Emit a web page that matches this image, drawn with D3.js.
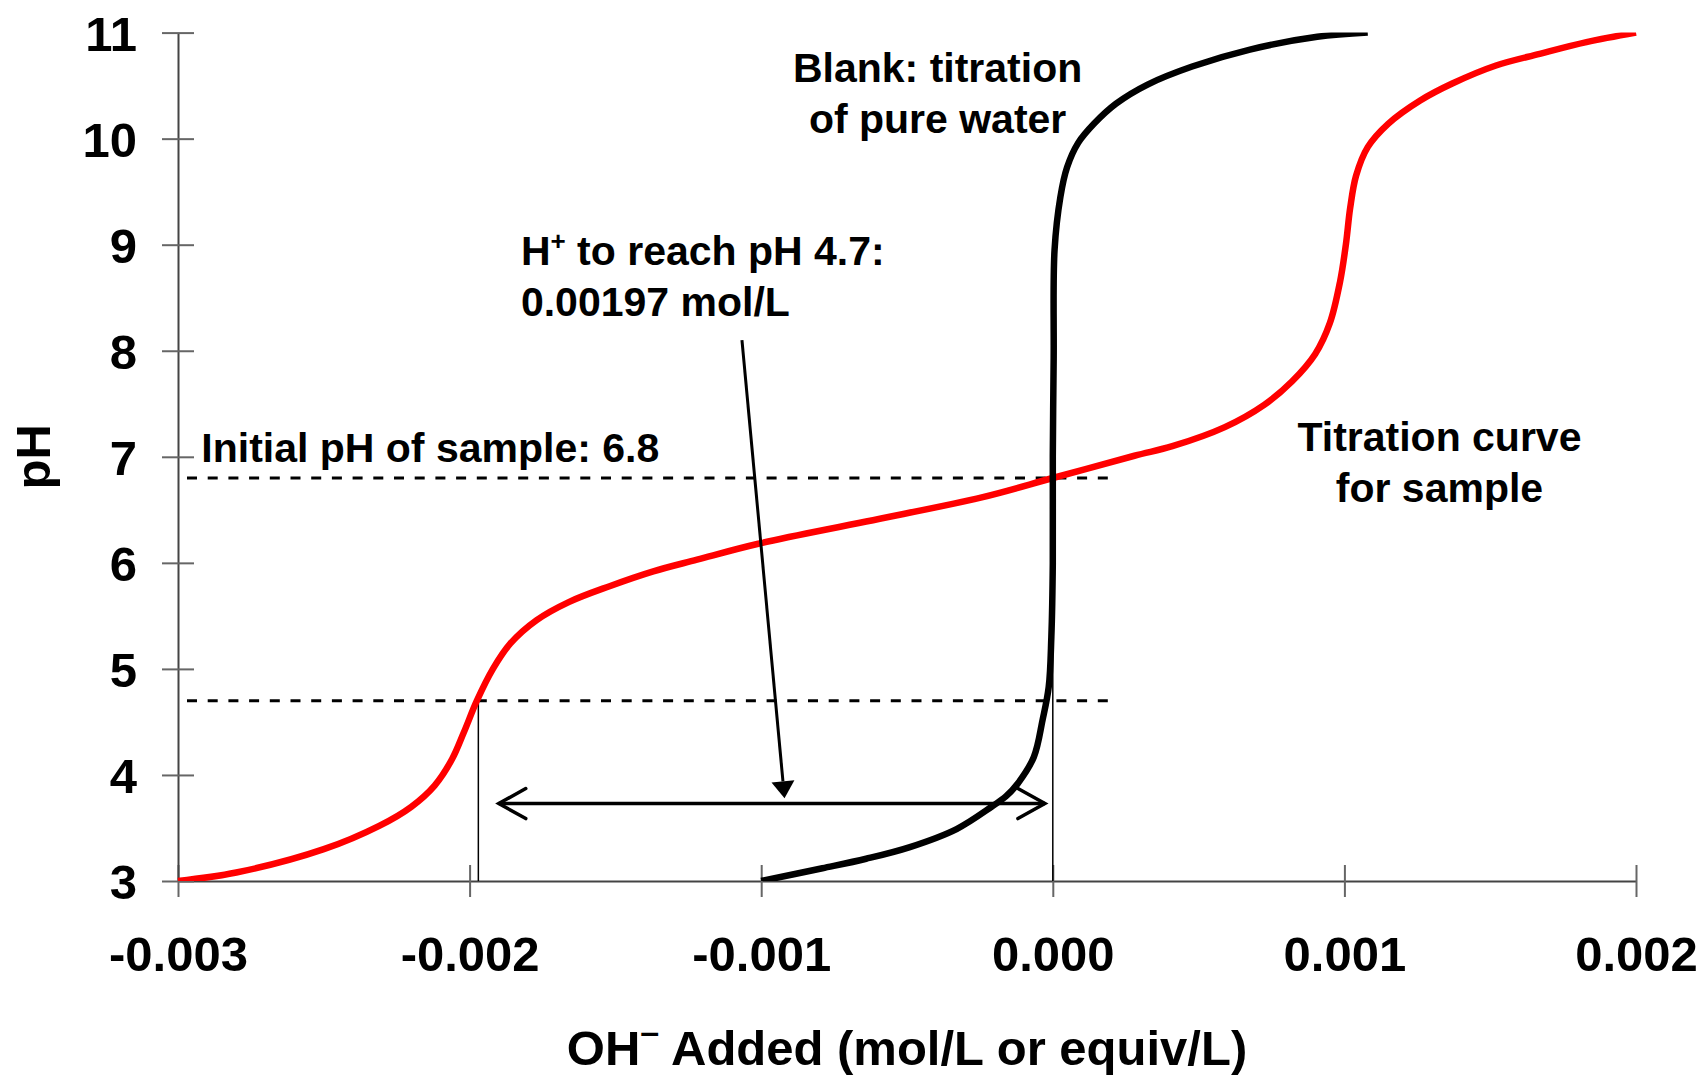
<!DOCTYPE html>
<html>
<head>
<meta charset="utf-8">
<script src="https://cdn.jsdelivr.net/npm/d3@7/dist/d3.min.js"></script>
<style>
    html, body { margin: 0; padding: 0; background: #fff; }
    svg { display: block; }
    text { font-family: Arial, "Liberation Sans", sans-serif; font-weight: bold; fill: #000; }
</style>
</head>
<body>
<div id="chart"></div>
<script>
    // 刻度
    var xTicks = [-0.003, -0.002, -0.001, 0, 0.001, 0.002];
    var xTickLabels = ["-0.003", "-0.002", "-0.001", "0.000", "0.001", "0.002"];
    var yTicks = [3, 4, 5, 6, 7, 8, 9, 10, 11];

    // 样品滴定曲线 [OH- added, pH]
    var sampleCurve = [
        [-0.003, 3.0], [-0.0028, 3.08], [-0.0025, 3.30], [-0.00231, 3.52], [-0.0022, 3.70],
        [-0.00212, 3.90], [-0.00206, 4.15], [-0.00202, 4.4], [-0.001975, 4.7], [-0.00192, 5.0],
        [-0.00186, 5.24], [-0.00177, 5.46], [-0.00166, 5.63], [-0.00152, 5.78], [-0.00137, 5.92],
        [-0.00122, 6.03], [-0.00101, 6.18], [-0.00064, 6.39], [-0.00024, 6.62], [0, 6.8],
        [0.00028, 7.01], [0.00041, 7.10], [0.00059, 7.28], [0.000725, 7.49], [0.00082, 7.71],
        [0.0009, 7.97], [0.00095, 8.26], [0.000985, 8.65], [0.001005, 9.0], [0.00102, 9.35],
        [0.00104, 9.65], [0.00108, 9.92], [0.00115, 10.14], [0.00126, 10.36], [0.00137, 10.52],
        [0.00152, 10.69], [0.00167, 10.80], [0.00183, 10.91], [0.002, 11.0]
    ];

    // 空白（纯水）滴定曲线
    var blankCurve = [
        [-0.001, 3.0], [-0.00079, 3.12], [-0.00064, 3.21], [-0.00049, 3.32], [-0.00033, 3.49],
        [-0.00021, 3.70], [-0.00016, 3.80], [-0.00012, 3.92], [-0.000065, 4.17], [-0.000035, 4.52],
        [-0.000014, 4.83], [-0.000005, 5.3], [0, 6.0], [0, 7.0], [0.000003, 7.93],
        [0.000006, 8.95], [0.000026, 9.45], [0.000049, 9.73], [0.000087, 9.96], [0.000141, 10.14],
        [0.000217, 10.33], [0.000325, 10.51], [0.000478, 10.68], [0.000676, 10.84], [0.000907, 10.96],
        [0.00108, 11.0]
    ];

    // 参考线
    var dashedLevels = [6.8, 4.7];
    var dashedEnd = 0.0002;
    var dropLines = [[-0.00197, 4.7], [0, 6.8]];
    var rangeArrow = [[-0.0019, 3.73], [-0.000027, 3.73]];
    var pointerArrow = [[-0.001066, 8.10], [-0.00092, 3.78]];

    var W = 1703, H = 1076;
    var x = d3.scaleLinear().domain([-0.003, 0.002]).range([178, 1636]);
    var y = d3.scaleLinear().domain([3, 11]).range([881, 32.6]);

    var svg = d3.select("#chart").append("svg").attr("width", W).attr("height", H);

    svg.append("defs").append("clipPath").attr("id", "plot")
        .append("rect").attr("x", x(-0.003) - 4).attr("y", y(11))
        .attr("width", x(0.002) - x(-0.003) + 8).attr("height", y(3) - y(11));

    // 坐标轴
    var xAxis = svg.append("g").attr("transform", "translate(0," + y(3) + ")")
        .call(d3.axisBottom(x).tickValues(xTicks).tickSizeInner(16).tickSizeOuter(0).tickPadding(39)
            .tickFormat(function (d, i) { return xTickLabels[i]; }));
    xAxis.selectAll(".tick line").attr("y1", -16);

    var yAxis = svg.append("g").attr("transform", "translate(" + x(-0.003) + ",0)")
        .call(d3.axisLeft(y).tickValues(yTicks).tickSizeInner(16).tickSizeOuter(0).tickPadding(25));
    yAxis.selectAll(".tick line").attr("x1", 16);

    svg.selectAll(".domain").attr("stroke", "#444").attr("stroke-width", 2);
    svg.selectAll(".tick line").attr("stroke", "#666").attr("stroke-width", 2);
    svg.selectAll(".tick text").attr("font-size", 49).attr("font-family", "Arial, 'Liberation Sans', sans-serif")
        .attr("font-weight", "bold").attr("fill", "#000");
    yAxis.selectAll(".tick text").attr("dy", "0.36em");

    // 虚线
    svg.selectAll(".dash").data(dashedLevels).enter().append("line")
        .attr("x1", x(-0.003)).attr("x2", x(dashedEnd))
        .attr("y1", function (d) { return y(d); }).attr("y2", function (d) { return y(d); })
        .attr("stroke", "#000").attr("stroke-width", 3)
        .attr("stroke-dasharray", "10,10.7").attr("stroke-dashoffset", 11.7);

    svg.selectAll(".drop").data(dropLines).enter().append("line")
        .attr("x1", function (d) { return x(d[0]); }).attr("x2", function (d) { return x(d[0]); })
        .attr("y1", y(3)).attr("y2", function (d) { return y(d[1]); })
        .attr("stroke", "#000").attr("stroke-width", 1.5);

    // 曲线
    var line = d3.line()
        .x(function (d) { return x(d[0]); })
        .y(function (d) { return y(d[1]); })
        .curve(d3.curveCatmullRom.alpha(0.5));

    var curves = svg.append("g").attr("clip-path", "url(#plot)");
    curves.append("path").attr("d", line(sampleCurve)).attr("fill", "none")
        .attr("stroke", "#ff0000").attr("stroke-width", 6.5).attr("stroke-linejoin", "round");
    curves.append("path").attr("d", line(blankCurve)).attr("fill", "none")
        .attr("stroke", "#000").attr("stroke-width", 6.5).attr("stroke-linejoin", "round");

    // 双向箭头
    var ax0 = x(rangeArrow[0][0]), ax1 = x(rangeArrow[1][0]), ay = y(rangeArrow[0][1]);
    svg.append("line").attr("x1", ax0).attr("x2", ax1).attr("y1", ay).attr("y2", ay)
        .attr("stroke", "#000").attr("stroke-width", 3.5);
    svg.append("path")
        .attr("d", "M" + (ax0 + 27) + "," + (ay - 15) + "L" + ax0 + "," + ay + "L" + (ax0 + 27) + "," + (ay + 15) +
            "M" + (ax1 - 27) + "," + (ay - 15) + "L" + ax1 + "," + ay + "L" + (ax1 - 27) + "," + (ay + 15))
        .attr("fill", "none").attr("stroke", "#000").attr("stroke-width", 3.5).attr("stroke-linecap", "round");

    // 指示箭头
    var px0 = x(pointerArrow[0][0]), py0 = y(pointerArrow[0][1]);
    var px1 = x(pointerArrow[1][0]), py1 = y(pointerArrow[1][1]);
    var ang = Math.atan2(py1 - py0, px1 - px0);
    var hl = 17, hw = 11.5;
    var bx = px1 - hl * Math.cos(ang), by = py1 - hl * Math.sin(ang);
    svg.append("line").attr("x1", px0).attr("y1", py0).attr("x2", bx).attr("y2", by)
        .attr("stroke", "#000").attr("stroke-width", 3);
    svg.append("path")
        .attr("d", "M" + px1 + "," + py1 +
            "L" + (bx + hw * Math.sin(ang)) + "," + (by - hw * Math.cos(ang)) +
            "L" + (bx - hw * Math.sin(ang)) + "," + (by + hw * Math.cos(ang)) + "Z")
        .attr("fill", "#000");

    // 注释文字
    var notes = svg.append("g").attr("font-size", 41);

    var blank = notes.append("text").attr("text-anchor", "middle").attr("x", x(-0.000395)).attr("y", y(10.53));
    blank.append("tspan").text("Blank: titration");
    blank.append("tspan").attr("x", x(-0.000395)).attr("dy", 51).text("of pure water");

    var hplus = notes.append("text").attr("x", x(-0.001824)).attr("y", y(8.81));
    hplus.append("tspan").text("H");
    hplus.append("tspan").attr("font-size", 26).attr("dy", -15).text("+");
    hplus.append("tspan").attr("dy", 15).text(" to reach pH 4.7:");
    hplus.append("tspan").attr("x", x(-0.001824)).attr("dy", 51).text("0.00197 mol/L");

    notes.append("text").attr("x", x(-0.00292)).attr("y", y(6.95)).text("Initial pH of sample: 6.8");

    var titr = notes.append("text").attr("text-anchor", "middle").attr("x", x(0.001326)).attr("y", y(7.05));
    titr.append("tspan").text("Titration curve");
    titr.append("tspan").attr("x", x(0.001326)).attr("dy", 51).text("for sample");

    // 坐标轴标题
    var xt = svg.append("text").attr("text-anchor", "middle").attr("font-size", 49)
        .attr("x", (x(-0.003) + x(0.002)) / 2).attr("y", 1065);
    xt.append("tspan").text("OH");
    xt.append("tspan").attr("font-size", 34).attr("dy", -22).text("\u2013");
    xt.append("tspan").attr("dy", 22).text(" Added (mol/L or equiv/L)");

    svg.append("text").attr("text-anchor", "middle").attr("font-size", 49)
        .attr("transform", "translate(50," + y(7) + ") rotate(-90)").text("pH");
</script>
</body>
</html>
